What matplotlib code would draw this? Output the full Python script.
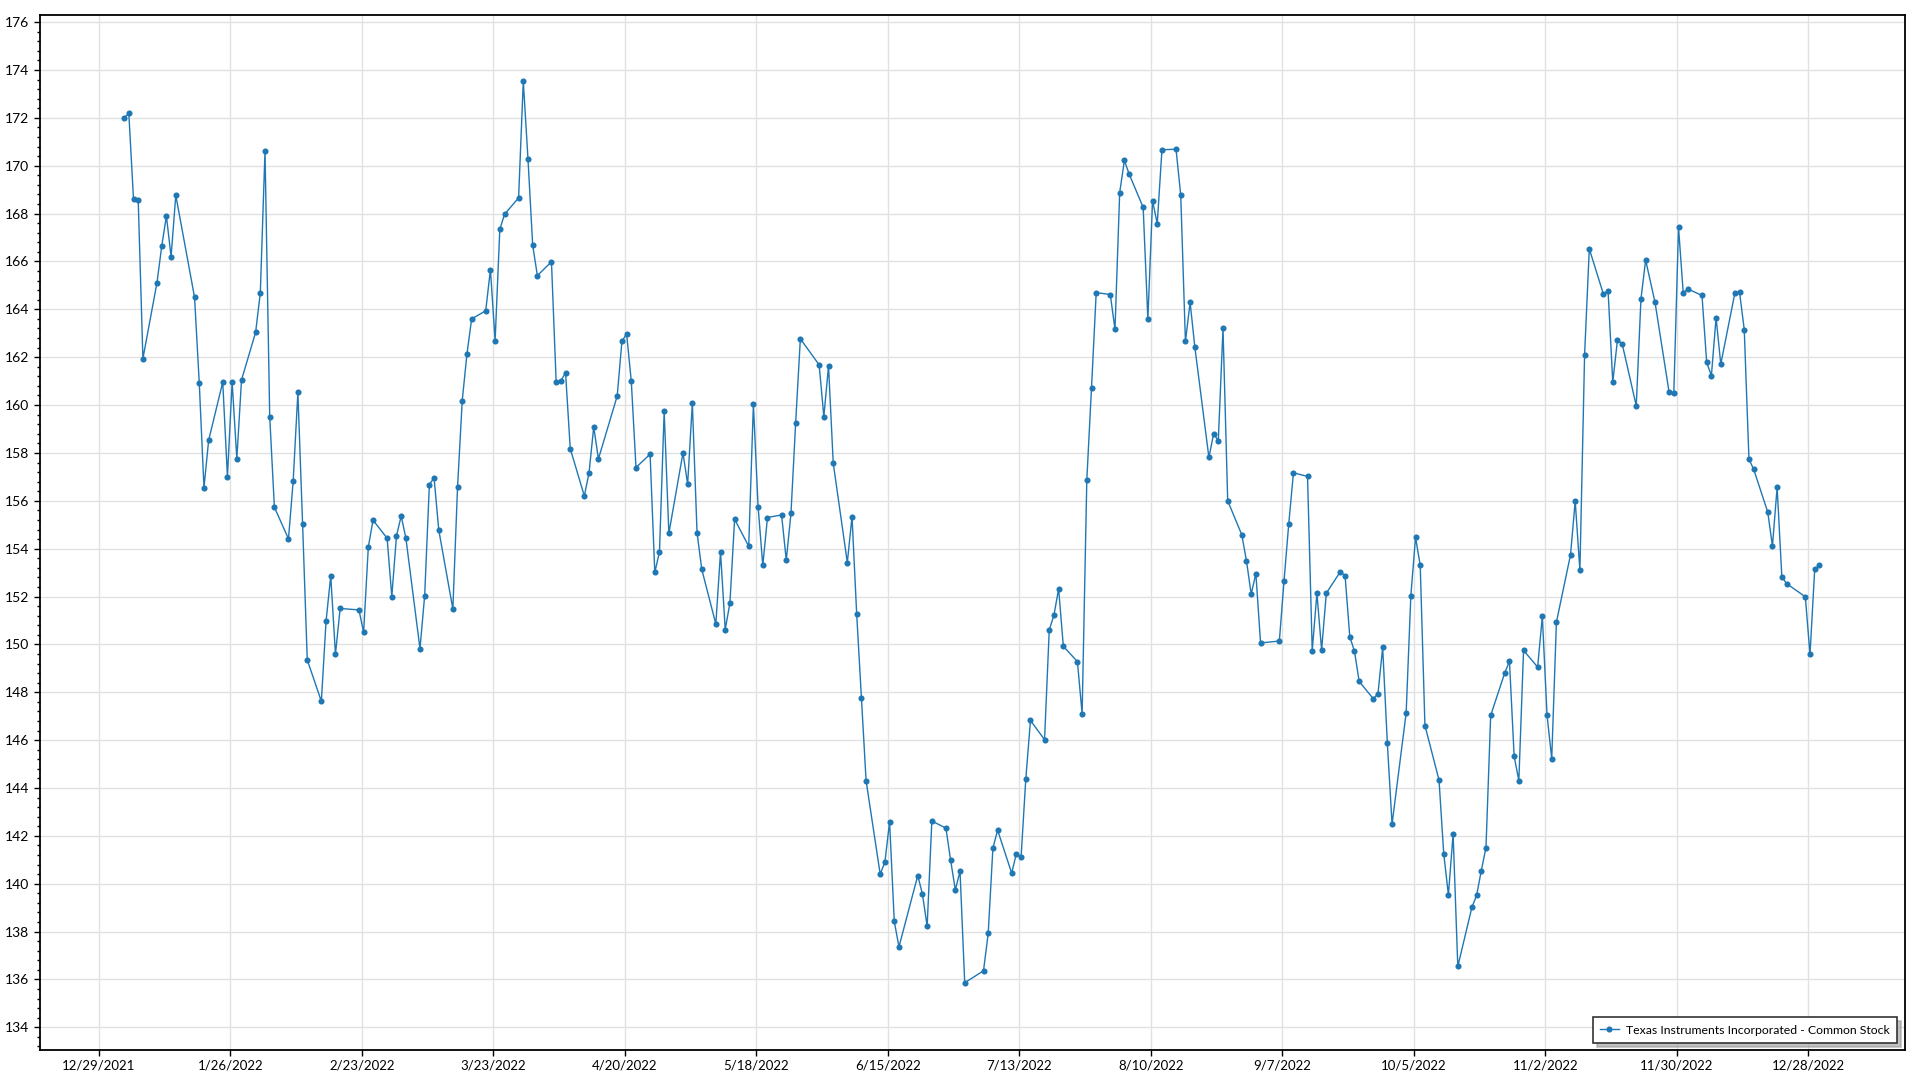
import matplotlib
matplotlib.use("Agg")
import matplotlib.pyplot as plt
import matplotlib.dates as mdates
from matplotlib.ticker import MultipleLocator, FixedLocator, FuncFormatter
import pandas as pd

plt.rcParams['font.family'] = ['Lato', 'DejaVu Sans']

series_name = "Texas Instruments Incorporated - Common Stock"

holidays = ["2022-01-17", "2022-02-21", "2022-04-15", "2022-05-30", "2022-06-20",
            "2022-07-04", "2022-09-05", "2022-11-24", "2022-12-26"]
first_day = "2022-01-03"
last_day = "2022-12-30"

jan = [172.0, 172.19, 168.6, 168.55, 161.94, 165.12, 166.63, 167.9, 166.2, 168.77,
       164.5, 160.92, 156.55, 158.53, 160.96, 157.0, 160.96, 157.76, 161.05, 163.04]
feb = [164.69, 170.62, 159.52, 155.73, 154.41, 156.83, 160.53, 155.04, 149.35,
       147.62, 150.97, 152.86, 149.59, 151.5, 151.44, 150.51, 154.07, 155.19, 154.44]
mar = [152.0, 154.54, 155.36, 154.44, 149.82, 152.04, 156.68, 156.96, 154.78,
       151.48, 156.57, 160.19, 162.13, 163.6, 163.94, 165.66, 162.69, 167.34, 167.97,
       168.66, 173.53, 170.28, 166.68]
apr = [165.41, 165.99, 160.96, 161.01, 161.35, 158.18, 156.2, 157.17, 159.09, 157.75,
       160.38, 162.66, 162.98, 160.99, 157.39, 157.95, 153.01, 153.86, 159.74, 154.64]
may = [158.0, 156.7, 160.08, 154.67, 153.14, 150.85, 153.86, 150.62, 151.73, 155.23,
       154.1, 160.03, 155.76, 153.3, 155.3, 155.41, 153.52, 155.47, 159.26, 162.77,
       161.68]
jun = [159.52, 161.63, 157.58, 153.42, 155.34, 151.25, 147.76, 144.3, 140.4, 140.9,
       142.58, 138.42, 137.36, 140.34, 139.56, 138.22, 142.62, 142.32, 140.98, 139.74,
       140.52]
jul = [135.86, 136.36, 137.92, 141.48, 142.24, 140.44, 141.26, 141.1, 144.36, 146.82,
       146.02, 150.6, 151.22, 152.32, 149.92, 149.28, 147.1, 156.88, 160.72, 164.7]
aug = [164.62, 163.16, 168.88, 170.22, 169.66, 168.26, 163.58, 168.54, 167.58, 170.67,
       170.69, 168.77, 162.66, 164.29, 162.43, 157.81, 158.8, 158.51, 163.21, 156.0,
       154.58, 153.49, 152.1]
sep = [152.96, 150.06, 150.14, 152.66, 155.03, 157.17, 157.02, 149.74, 152.14, 149.76,
       152.14, 153.04, 152.86, 150.32, 149.71, 148.45, 147.73, 147.94, 149.87, 145.86,
       142.49]
oct_ = [147.13, 152.03, 154.47, 153.3, 146.61, 144.33, 141.26, 139.53, 142.08, 136.54,
        139.01, 139.51, 140.54, 141.51, 147.03, 148.81, 149.29, 145.32, 144.31, 149.75,
        149.05]
nov = [151.17, 147.05, 145.22, 150.93, 153.74, 155.99, 153.09, 162.1, 166.53,
       164.64, 164.77, 160.96, 162.72, 162.56, 159.97, 164.43, 166.06, 164.29,
       160.53, 160.51, 167.43]
dec = [164.7, 164.85, 164.58, 161.78, 161.23, 163.65, 161.71, 164.68, 164.71, 163.15,
       157.74, 157.32, 155.53, 154.11, 156.56, 152.83, 152.54, 151.99, 149.58, 153.13,
       153.31]

tick_start = "2021-12-29"
tick_count = 14
tick_step_days = 28

prices = jan + feb + mar + apr + may + jun + jul + aug + sep + oct_ + nov + dec
dates = pd.bdate_range(first_day, last_day, freq="C", holidays=holidays) + pd.Timedelta(hours=9)

fig = plt.figure(figsize=(19.2, 10.8), dpi=100)
ax = fig.add_axes([39.5 / 1920, 1 - 1050 / 1080, (1905 - 39.5) / 1920, (1050 - 15) / 1080])

color = "#1f77b4"
ax.plot(dates, prices, color=color, linewidth=1.0, marker="o", markersize=4.4,
        markeredgewidth=0, label=series_name, zorder=3)

ax.set_xlim(pd.Timestamp("2021-12-16 08:30"), pd.Timestamp("2023-01-17 14:30"))
ax.set_ylim(133.05, 176.3)

tick_dates = pd.date_range(tick_start, periods=tick_count, freq=f"{tick_step_days}D")
ax.xaxis.set_major_locator(FixedLocator(mdates.date2num(tick_dates.to_pydatetime())))
ax.xaxis.set_major_formatter(FuncFormatter(
    lambda v, p: (lambda d: f"{d.month}/{d.day}/{d.year}")(mdates.num2date(v))))
ax.yaxis.set_major_locator(MultipleLocator(2))
ax.yaxis.set_minor_locator(MultipleLocator(0.4))
ax.yaxis.set_major_formatter(FuncFormatter(lambda v, p: f"{v:.0f}"))

ax.grid(True, which="major", color="#e1e1e1", linewidth=1.0, zorder=0)
ax.set_axisbelow(True)
for s in ax.spines.values():
    s.set_color("black")
    s.set_linewidth(1.3)

ax.tick_params(axis="both", which="major", direction="out", length=4.5, width=1,
               labelsize=9.5, colors="black", pad=3)
ax.tick_params(axis="y", which="major", labelsize=10)
ax.tick_params(axis="x", which="major", pad=2)
ax.tick_params(axis="y", which="minor", direction="out", length=2.5, width=1, colors="black")
ax.tick_params(top=False, right=False)

leg = ax.legend(loc="lower right", bbox_to_anchor=(0.9957, 0.0068), frameon=True,
                fancybox=False, shadow={"ox": 3, "oy": -3, "color": "#999999", "alpha": 0.6},
                fontsize=8.8, handlelength=1.5, borderpad=0.6, handletextpad=0.6,
                borderaxespad=0.0)
leg.get_frame().set_edgecolor("#333333")
leg.get_frame().set_linewidth(1.2)
leg.get_frame().set_facecolor("white")
leg.get_frame().set_alpha(1.0)

fig.savefig("out.png", dpi=100)
